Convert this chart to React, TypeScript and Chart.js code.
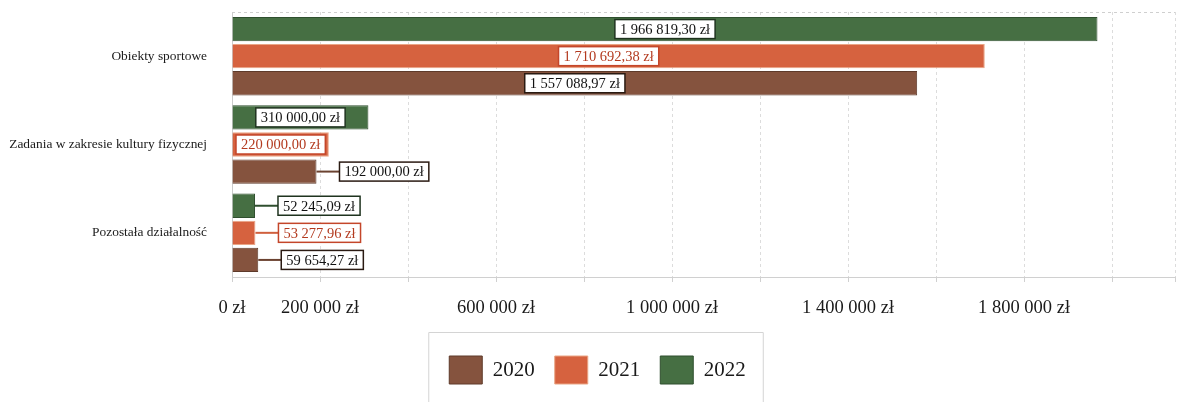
import React, { useEffect, useRef } from "react";
import { Chart, registerables } from "chart.js";

Chart.register(...registerables);

const categories = ["Obiekty sportowe", "Zadania w zakresie kultury fizycznej", "Pozostała działalność"];
const values2022 = [1966819.3, 310000.0, 52245.09];
const values2021 = [1710692.38, 220000.0, 53277.96];
const values2020 = [1557088.97, 192000.0, 59654.27];
const gridTicks = [0, 200000, 400000, 600000, 800000, 1000000, 1200000, 1400000, 1600000, 1800000, 2000000, 2143000];
const shownTicks = [0, 200000, 600000, 1000000, 1400000, 1800000];
const X_MAX = 2143000;

const SERIF = "'Liberation Serif', 'DejaVu Serif', serif";

function fmtNum(v: number, decimals: number): string {
  const s = v.toFixed(decimals);
  const [intPart, dec] = s.split(".");
  const grouped = intPart.replace(/\B(?=(\d{3})+(?!\d))/g, " ");
  return dec ? grouped + "," + dec : grouped;
}

const labelStyles: Record<string, { border: string; text: string; line: string }> = {
  "2022": { border: "#1f331f", text: "#111111", line: "#2f4f2f" },
  "2021": { border: "#c4462a", text: "#b33a1f", line: "#d0603e" },
  "2020": { border: "#2a1a12", text: "#111111", line: "#6b4230" },
};

const boxLabelPlugin = {
  id: "boxLabels",
  afterDatasetsDraw(chart: any) {
    const ctx = chart.ctx;
    ctx.save();
    ctx.font = `14.5px ${SERIF}`;
    ctx.textBaseline = "middle";
    ctx.textAlign = "center";
    chart.data.datasets.forEach((ds: any, di: number) => {
      const meta = chart.getDatasetMeta(di);
      const st = labelStyles[ds.label];
      meta.data.forEach((bar: any, i: number) => {
        const txt = fmtNum(ds.data[i], 2) + " zł";
        const tw = ctx.measureText(txt).width;
        const bw = tw + 10;
        const bh = 19;
        const x0 = bar.base;
        const x1 = bar.x;
        const y = bar.y;
        let cx: number;
        if (bw <= x1 - x0) {
          cx = (x0 + x1) / 2;
        } else {
          const left = x1 + 23;
          cx = left + bw / 2;
          ctx.strokeStyle = st.line;
          ctx.lineWidth = 2;
          ctx.beginPath();
          ctx.moveTo(x1, y);
          ctx.lineTo(left, y);
          ctx.stroke();
        }
        ctx.fillStyle = "#ffffff";
        ctx.fillRect(cx - bw / 2, y - bh / 2, bw, bh);
        ctx.strokeStyle = st.border;
        ctx.lineWidth = 1.5;
        ctx.strokeRect(cx - bw / 2, y - bh / 2, bw, bh);
        ctx.fillStyle = st.text;
        ctx.fillText(txt, cx, y + 1);
      });
    });
    ctx.restore();
  },
};

const LEGEND_SHIFT = 10;

const framePlugin = {
  id: "frame",
  afterLayout(chart: any) {
    const lg = chart.legend;
    if (!lg) return;
    lg.left += LEGEND_SHIFT * 2;
    (lg.legendHitBoxes || []).forEach((b: any) => {
      b.left += LEGEND_SHIFT;
    });
  },
  afterDraw(chart: any) {
    const ctx = chart.ctx;
    const a = chart.chartArea;
    ctx.save();
    ctx.strokeStyle = "#cfcfcf";
    ctx.lineWidth = 1;
    ctx.setLineDash([3, 3]);
    ctx.beginPath();
    ctx.moveTo(a.left, a.top + 0.5);
    ctx.lineTo(a.right, a.top + 0.5);
    ctx.stroke();
    ctx.setLineDash([]);
    const xs = chart.scales.x;
    ctx.strokeStyle = "#d0d0d0";
    ctx.beginPath();
    gridTicks.forEach((t) => {
      const px = Math.round(xs.getPixelForValue(t)) + 0.5;
      ctx.moveTo(px, a.bottom);
      ctx.lineTo(px, a.bottom + 5);
    });
    ctx.stroke();
    const boxes = chart.legend && chart.legend.legendHitBoxes;
    if (boxes && boxes.length) {
      const l = Math.min(...boxes.map((b: any) => b.left)) - 21;
      const r = Math.max(...boxes.map((b: any) => b.left + b.width)) + 17;
      const t = boxes[0].top + boxes[0].height / 2 - 38;
      ctx.strokeStyle = "#d4d4d4";
      ctx.beginPath();
      ctx.moveTo(l + 0.5, chart.height);
      ctx.lineTo(l + 0.5, t + 0.5);
      ctx.lineTo(r + 0.5, t + 0.5);
      ctx.lineTo(r + 0.5, chart.height);
      ctx.stroke();
    }
    ctx.restore();
  },
};

export default function App() {
  const ref = useRef<HTMLCanvasElement | null>(null);
  useEffect(() => {
    document.body.style.margin = "0";
    if (!ref.current) return;
    const chart = new Chart(ref.current, {
      type: "bar",
      data: {
        labels: categories,
        datasets: [
          { label: "2022", data: values2022, backgroundColor: "#466f43", borderColor: "#2f4f2e", borderWidth: 1 },
          { label: "2021", data: values2021, backgroundColor: "#d6623f", borderColor: "#eaa585", borderWidth: 1 },
          { label: "2020", data: values2020, backgroundColor: "#85533e", borderColor: "#5e3a2a", borderWidth: 1 },
        ],
      },
      options: {
        indexAxis: "y",
        responsive: false,
        animation: false,
        layout: { padding: { left: 0, right: 4, top: 12, bottom: 8 } },
        scales: {
          x: {
            min: 0,
            max: X_MAX,
            afterBuildTicks: (s: any) => {
              s.ticks = gridTicks.map((v) => ({ value: v }));
            },
            ticks: {
              autoSkip: false,
              maxRotation: 0,
              padding: 0,
              color: "#1a1a1a",
              font: { family: SERIF, size: 18.5 },
              callback: (v: any) => {
                const n = Math.round(Number(v));
                return shownTicks.includes(n) ? fmtNum(n, 0) + " zł" : "";
              },
            },
            grid: { color: "#dcdcdc", tickLength: 20, tickColor: "rgba(0,0,0,0)" },
            border: { color: "#d0d0d0", dash: [3, 3] },
            afterFit: (s: any) => {
              s.height = 59;
            },
          },
          y: {
            ticks: {
              color: "#1a1a1a",
              padding: 0,
              font: { family: SERIF, size: 13.4 },
            },
            grid: { display: true, color: "rgba(0,0,0,0)", drawTicks: true, tickLength: 25, tickColor: "rgba(0,0,0,0)" },
            border: { color: "#cccccc" },
            afterFit: (s: any) => {
              s.width = 232;
            },
          },
        },
        datasets: { bar: { categoryPercentage: 0.92, barPercentage: 0.9 } } as any,
        plugins: {
          legend: {
            position: "bottom",
            reverse: true,
            labels: {
              boxWidth: 33,
              boxHeight: 28,
              padding: 20,
              color: "#1a1a1a",
              font: { family: SERIF, size: 21 },
            },
          },
          tooltip: { enabled: false },
        },
      },
      plugins: [boxLabelPlugin, framePlugin],
    });
    return () => chart.destroy();
  }, []);
  return (
    <div style={{ width: 1179, height: 402 }}>
      <canvas ref={ref} width={1179} height={402} />
    </div>
  );
}
